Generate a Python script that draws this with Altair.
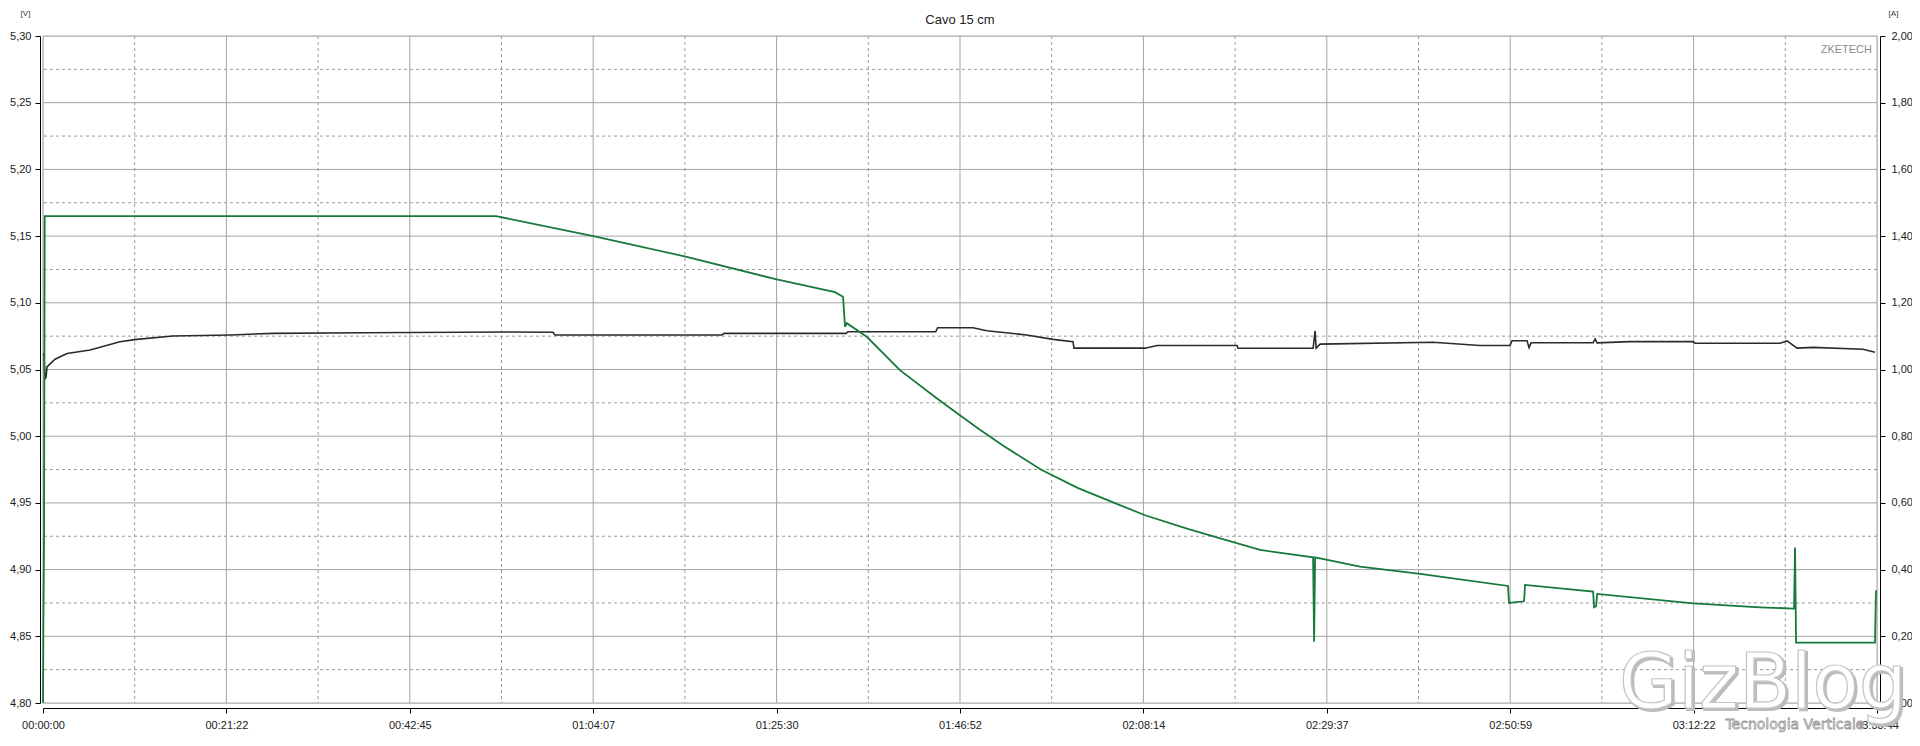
import altair as alt
import pandas as pd

# ---------------- data ----------------
TITLE = "Cavo 15 cm"
T_END = 12824  # seconds, 03:33:44

x_tick_labels = ["00:00:00", "00:21:22", "00:42:45", "01:04:07", "01:25:30", "01:46:52",
                 "02:08:14", "02:29:37", "02:50:59", "03:12:22", "03:33:44"]
v_ticks = [4.80, 4.85, 4.90, 4.95, 5.00, 5.05, 5.10, 5.15, 5.20, 5.25, 5.30]
v_minor = [4.825, 4.875, 4.925, 4.975, 5.025, 5.075, 5.125, 5.175, 5.225, 5.275]
a_ticks = [0.0, 0.2, 0.4, 0.6, 0.8, 1.0, 1.2, 1.4, 1.6, 1.8, 2.0]

# voltage [V] (black, left axis)
volt_t = [0, 7, 14, 21, 28, 84, 168, 329, 538, 655, 909, 1308, 1608, 2238, 3265, 3566, 3580,
          4748, 4762, 5615, 5629, 6242, 6256, 6503, 6599, 6878, 7062, 7202, 7209, 7391, 7706,
          7790, 8349, 8356, 8881, 8895, 8902, 8930, 9719, 10048, 10258, 10272, 10377, 10391,
          10405, 10839, 10853, 10867, 11097, 11538, 11552, 12146, 12195, 12265, 12377, 12726, 12810]
volt_v = [5.062, 5.061, 5.043, 5.044, 5.052, 5.0577, 5.062, 5.0646, 5.0708, 5.0726, 5.0751,
          5.0759, 5.0771, 5.0776, 5.0781, 5.0779, 5.0759, 5.0759, 5.0771, 5.0771, 5.0783,
          5.0783, 5.0813, 5.0813, 5.079, 5.0759, 5.0726, 5.0709, 5.066, 5.066, 5.066, 5.068,
          5.068, 5.0659, 5.0659, 5.0789, 5.066, 5.069, 5.0704, 5.068, 5.068, 5.0716, 5.0716,
          5.0664, 5.070, 5.070, 5.0729, 5.070, 5.0709, 5.0709, 5.0697, 5.0697, 5.0714, 5.066,
          5.0666, 5.0652, 5.0629]

# current [A] (green, right axis)
curr_t = [0, 3, 7, 12, 3168, 3848, 4501, 5130, 5538, 5594, 5608, 5620, 5760, 5992, 6249,
          6404, 6549, 6720, 6977, 7234, 7491, 7706, 8005, 8262, 8510, 8881, 8888, 8895, 9209,
          9629, 10244, 10251, 10356, 10363, 10839, 10846, 10860, 10867, 11538, 12006, 12244,
          12251, 12258, 12810, 12817]
curr_a = [0.0, 0.26, 0.47, 1.46, 1.46, 1.40, 1.338, 1.270, 1.232, 1.218, 1.128, 1.139, 1.098,
          0.998, 0.914, 0.865, 0.82, 0.77, 0.70, 0.645, 0.60, 0.563, 0.522, 0.49, 0.459, 0.437,
          0.184, 0.437, 0.409, 0.387, 0.351, 0.30, 0.305, 0.354, 0.334, 0.287, 0.290, 0.327,
          0.299, 0.287, 0.283, 0.466, 0.181, 0.181, 0.338]

volt_df = pd.DataFrame({"t": volt_t, "v": volt_v})
curr_df = pd.DataFrame({"t": curr_t, "a": curr_a})

x_major = [i * T_END / 10 for i in range(11)]
x_minor = [(i + 0.5) * T_END / 10 for i in range(10)]

# ---------------- style ----------------
FONT = "Liberation Sans Narrow, Liberation Sans, Arial, sans-serif"
GRID = "#a3a3a3"
DASH = "#9a9a9a"

label_js = "[" + ",".join("'" + s + "'" for s in x_tick_labels) + "]"
x_enc = alt.X(
    "t:Q",
    scale=alt.Scale(domain=[0, T_END], nice=False, zero=False),
    axis=alt.Axis(values=x_major, title=None, grid=False,
                  labelExpr=label_js + "[round(datum.value / " + str(T_END / 10) + ")]",
                  offset=5, tickSize=5, labelPadding=6, labelFlush=False, labelOverlap=False,
                  domainColor="black", tickColor="black", labelColor="#222222",
                  labelFont=FONT, labelFontSize=11),
)
comma = "replace(format(datum.value, '.2f'), '.', ',')"
y_left = alt.Y(
    "v:Q",
    scale=alt.Scale(domain=[4.80, 5.30], nice=False, zero=False),
    axis=alt.Axis(values=v_ticks, labelExpr=comma, grid=False, offset=3, tickSize=5,
                  labelPadding=4, domainColor="black", tickColor="black",
                  labelColor="#222222", labelFont=FONT, labelFontSize=11,
                  title="[V]", titleAngle=0, titleX=-15, titleY=-23, titleAlign="center",
                  titleBaseline="middle", titleFontSize=8, titleFontWeight="normal",
                  titleFont=FONT, titleColor="#333333"),
)
y_right = alt.Y(
    "a:Q",
    scale=alt.Scale(domain=[0, 2.0], nice=False, zero=False),
    axis=alt.Axis(orient="right", values=a_ticks, labelExpr=comma, grid=False, offset=3,
                  tickSize=5, labelPadding=6, domainColor="black", tickColor="black",
                  labelColor="#222222", labelFont=FONT, labelFontSize=11,
                  title="[A]", titleAngle=0, titleX=13, titleY=-23, titleAlign="center",
                  titleBaseline="middle", titleFontSize=8, titleFontWeight="normal",
                  titleFont=FONT, titleColor="#333333"),
)

grid_h_major = alt.Chart(pd.DataFrame({"v": v_ticks})).mark_rule(
    color=GRID, strokeWidth=1).encode(y=y_left)
grid_h_minor = alt.Chart(pd.DataFrame({"v": v_minor})).mark_rule(
    color=DASH, strokeWidth=1, strokeDash=[3, 3]).encode(y=y_left)
grid_v_major = alt.Chart(pd.DataFrame({"t": x_major})).mark_rule(
    color=GRID, strokeWidth=1).encode(x=x_enc)
grid_v_minor = alt.Chart(pd.DataFrame({"t": x_minor})).mark_rule(
    color=DASH, strokeWidth=1, strokeDash=[3, 3]).encode(x=x_enc)

volt_line = alt.Chart(volt_df).mark_line(color="#2b2b2b", strokeWidth=1.6).encode(
    x=x_enc, y=y_left)

zk = alt.Chart(pd.DataFrame({"s": ["ZKETECH"]})).mark_text(
    align="right", baseline="middle", fontSize=11, font=FONT, color="#8c8c8c"
).encode(text="s:N", x=alt.value(1829), y=alt.value(14))

title_txt = alt.Chart(pd.DataFrame({"s": [TITLE]})).mark_text(
    align="center", baseline="middle", fontSize=13, font="Liberation Sans", color="#222222"
).encode(text="s:N", x=alt.value(917), y=alt.value(-16))

left_layer = alt.layer(grid_v_minor, grid_v_major, grid_h_minor, grid_h_major,
                       volt_line, zk, title_txt)

curr_line = alt.Chart(curr_df).mark_line(color="#17793c", strokeWidth=1.8).encode(
    x=x_enc, y=y_right)

wm_df = pd.DataFrame({"s": ["GizBlog"]})
wm1_shadow = alt.Chart(wm_df).mark_text(
    align="center", baseline="alphabetic", fontSize=76, font="DejaVu Sans",
    fill="#bcbcbc", stroke="#bcbcbc", strokeWidth=2
).encode(text="s:N", x=alt.value(1722), y=alt.value(674))
wm1 = alt.Chart(wm_df).mark_text(
    align="center", baseline="alphabetic", fontSize=76, font="DejaVu Sans",
    fill="white", stroke="#c4c4c4", strokeWidth=1.2
).encode(text="s:N", x=alt.value(1720), y=alt.value(672))
wm2 = alt.Chart(pd.DataFrame({"s": ["Tecnologia Verticale"]})).mark_text(
    align="center", baseline="middle", fontSize=14, font="DejaVu Sans",
    fill="white", stroke="#9a9a9a", strokeWidth=0.8
).encode(text="s:N", x=alt.value(1752), y=alt.value(689))

chart = alt.layer(left_layer, curr_line, wm1_shadow, wm1, wm2).resolve_scale(
    y="independent"
).properties(
    width=1834, height=667,
    autosize=alt.AutoSizeParams(type="none"),
    padding={"left": 35, "top": 28, "right": 35, "bottom": 35},
).configure_view(stroke=None).configure(background="white")

chart.save("out.html", embed_options={"renderer": "svg", "actions": False})
